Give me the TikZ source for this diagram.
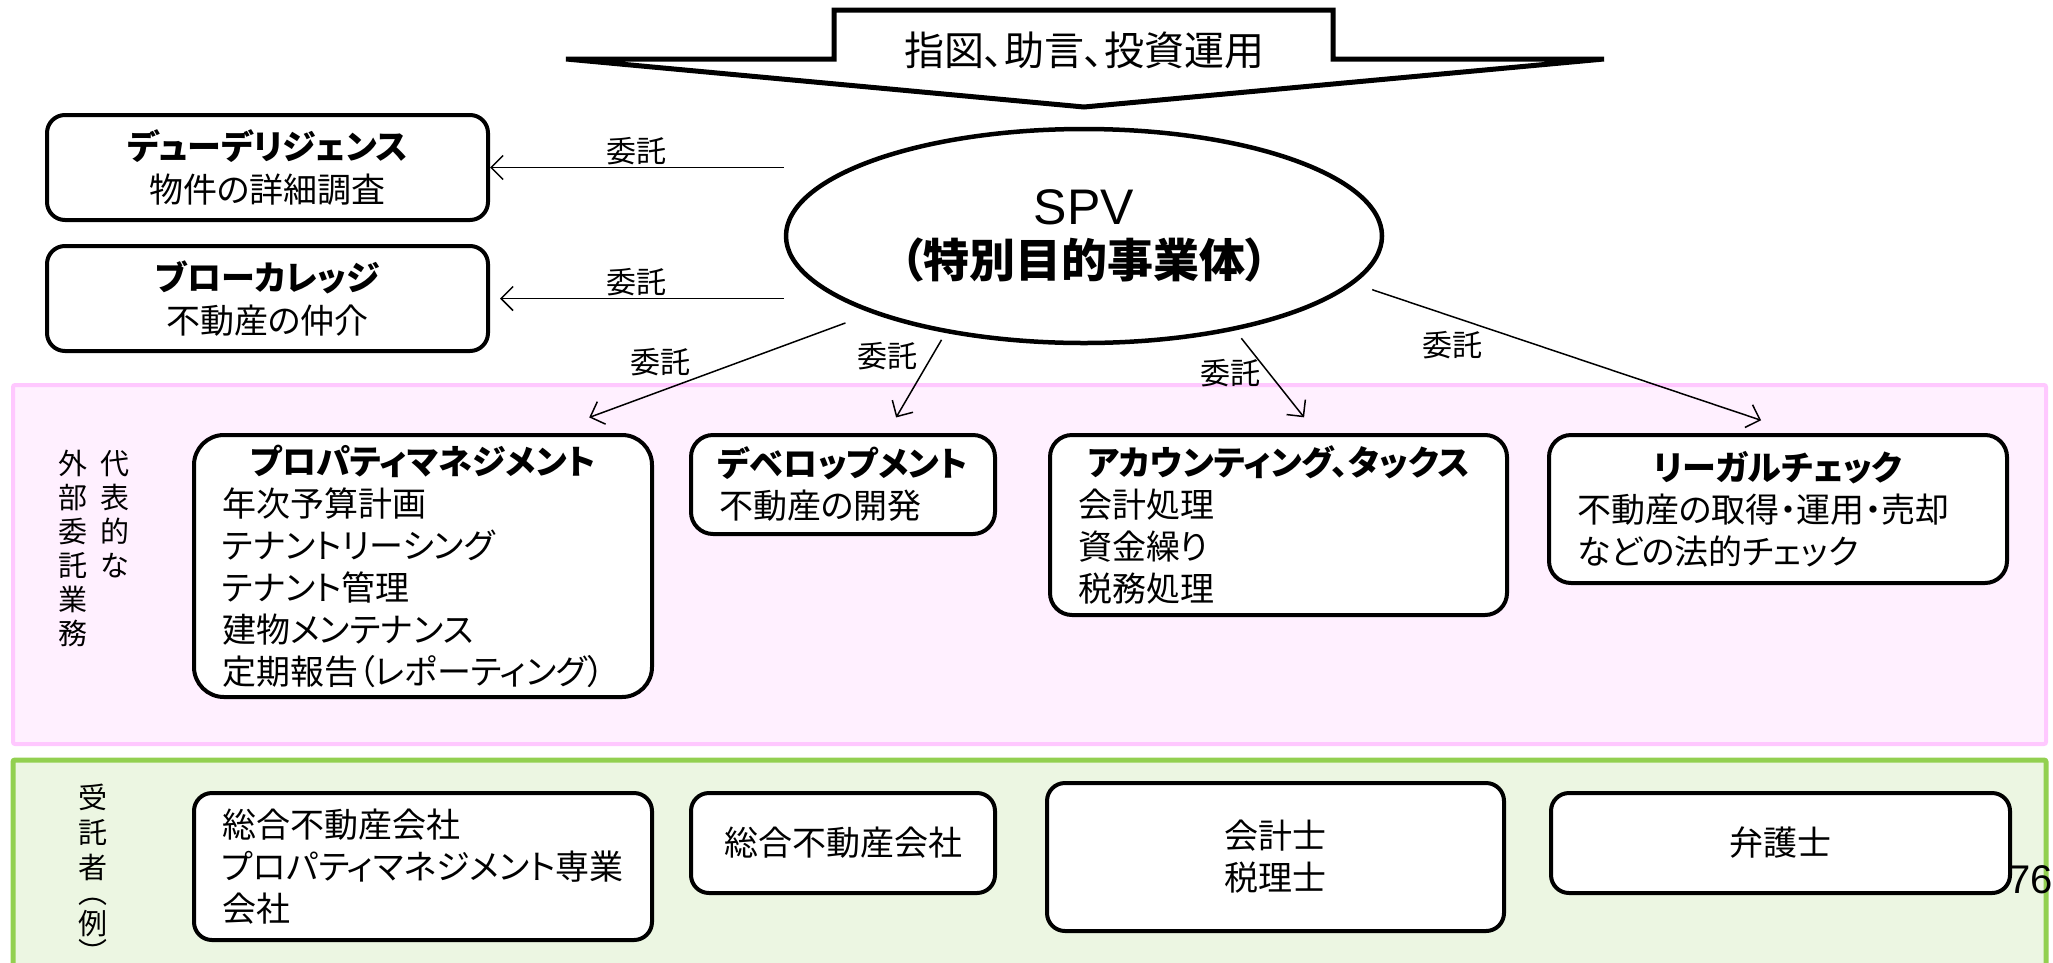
\documentclass[tikz,border=0pt]{standalone}
\usepackage{fontspec}
\setmainfont{Noto Sans CJK JP}[RawFeature=+palt]
\newfontfamily\latinfont{Liberation Sans}
\usepackage{xcolor}
\usepackage{tikz}
\usetikzlibrary{shapes.geometric, arrows.meta, positioning}
\definecolor{bandpink}{RGB}{255,240,255}
\definecolor{bandpinkline}{RGB}{255,200,255}
\definecolor{bandgreen}{RGB}{236,246,226}
\definecolor{bandgreenline}{RGB}{146,208,80}
\newcommand{\boxhead}[1]{\makebox[\linewidth]{\bfseries #1}}

\begin{document}
\begin{tikzpicture}[x=1pt, y=-1pt,
  side/.style={rectangle, draw, fill=white, line width=4pt, rounded corners=18pt, minimum width=441pt, minimum height=105pt, align=center, inner sep=4pt, font=\fontsize{34}{43}\selectfont},
  task/.style={rectangle, draw, fill=white, line width=4pt, rounded corners=22pt, align=left, inner xsep=28pt, inner ysep=4pt, font=\fontsize{34}{42}\selectfont},
  firm/.style={task, rounded corners=18pt, font=\fontsize{34}{42}\selectfont},
  arr/.style={-{Straight Barb[length=12pt, width=24pt]}, line width=1.5pt},
  lbl/.style={font=\fontsize{30}{32}\selectfont, inner sep=2pt},
  vtag/.style={anchor=north, align=center, inner sep=0pt, font=\fontsize{29}{34}\selectfont}
]
  \useasboundingbox (0,0) rectangle (2053,962);
  \draw[line width=4pt, draw=bandpinkline, fill=bandpink, rounded corners=2pt] (13,385) rectangle (2046,744);
  \draw[line width=5pt, draw=bandgreenline, fill=bandgreen, rounded corners=2pt] (13,760) rectangle (2046,990);

  \draw[line width=5pt, fill=white] (566,59) -- (834,59) -- (834,10) -- (1333,10) -- (1333,59) -- (1604,59) -- (1084,107) -- cycle;
  \node[font=\fontsize{40}{42}\selectfont] (order) at (1084,50) {指図、助言、投資運用};

  \node[ellipse, draw, fill=white, line width=4.5pt, minimum width=596pt, minimum height=214pt, align=center, font=\fontsize{46}{53}\selectfont] (spv) at (1084,236)
    {{\latinfont\fontsize{50}{53}\selectfont SPV}\\\textbf{（特別目的事業体）}};

  \node[side] (dd) at (267.5,167.5) {\textbf{デューデリジェンス}\\物件の詳細調査};
  \node[side] (brk) at (267.5,298.5) {\textbf{ブローカレッジ}\\不動産の仲介};

  \node[vtag] (tagright) at (115,450) {代\\表\\的\\な};
  \node[vtag] (tagleft) at (73,450) {外\\部\\委\\託\\業\\務};
  \node[vtag, font=\fontsize{29}{35}\selectfont] (tagfirm) at (93,784) {受\\託\\者\\[-10pt]︵\\[-4pt]例\\[-6pt]︶};

  \node[task, text width=402pt, minimum height=262pt, rounded corners=30pt] (pm) at (423,566)
    {\boxhead{プロパティマネジメント}\\年次予算計画\\テナントリーシング\\テナント管理\\建物メンテナンス\\定期報告（レポーティング）};
  \node[task, text width=248pt, minimum height=99pt] (dev) at (843,484.5)
    {\boxhead{デベロップメント}\\不動産の開発};
  \node[task, text width=401pt, minimum height=180pt] (acc) at (1278.5,525)
    {\boxhead{アカウンティング、タックス}\\会計処理\\資金繰り\\税務処理};
  \node[task, text width=402pt, minimum height=148pt] (legal) at (1778,509)
    {\boxhead{リーガルチェック}\\不動産の取得・運用・売却\\などの法的チェック};

  \node[firm, text width=402pt, minimum height=147pt] (pmfirm) at (423,866.5)
    {総合不動産会社\\プロパティマネジメント専業\\会社};
  \node[firm, text width=248pt, minimum height=100pt, align=center] (devfirm) at (843,843) {総合不動産会社};
  \node[firm, text width=401pt, minimum height=148pt, align=center] (accfirm) at (1275.5,857) {会計士\\税理士};
  \node[firm, text width=403pt, minimum height=100pt, align=center] (lawfirm) at (1780.5,843) {弁護士};

  \node[anchor=west, inner sep=0pt, font=\latinfont\fontsize{40}{40}\selectfont] (pageno) at (2008,880) {76};

  \draw[arr] (spv.west |- dd.east) -- node[above, lbl] {委託} (dd.east);
  \draw[arr, shorten >=10pt] (spv.west |- brk.east) -- node[above, lbl] {委託} (brk.east);
  \draw[arr, shorten <=28pt, shorten >=45pt] (spv.200) -- node[pos=0.55, above left, lbl] {委託} ([xshift=124pt]pm.north);
  \draw[arr, shorten <=8pt, shorten >=18pt] (spv.215) -- node[pos=0.23, left=12pt, lbl] {委託} ([xshift=44pt]dev.north);
  \draw[arr, shorten <=10pt, shorten >=20pt] (spv.328) -- node[pos=0.42, left=6pt, lbl] {委託} ([xshift=38pt]acc.north);
  \draw[arr, shorten <=19pt, shorten >=40pt] (spv.350) -- node[pos=0.22, below=12pt, lbl] {委託} ([xshift=21pt]legal.north);
\end{tikzpicture}
\end{document}
